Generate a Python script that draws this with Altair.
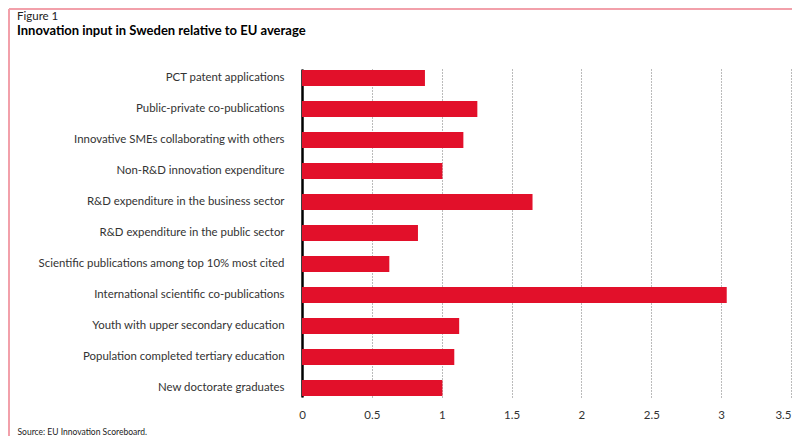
import altair as alt
import pandas as pd

categories = [
    "PCT patent applications",
    "Public-private co-publications",
    "Innovative SMEs collaborating with others",
    "Non-R&D innovation expenditure",
    "R&D expenditure in the business sector",
    "R&D expenditure in the public sector",
    "Scientific publications among top 10% most cited",
    "International scientific co-publications",
    "Youth with upper secondary education",
    "Population completed tertiary education",
    "New doctorate graduates",
]
values = [0.88, 1.255, 1.155, 1.005, 1.65, 0.83, 0.625, 3.04, 1.125, 1.09, 1.005]
tick_values = [0, 0.5, 1, 1.5, 2, 2.5, 3, 3.5]
figure_label = ["Figure 1"]
figure_title = ["Innovation input in Sweden relative to EU average"]
source_note = "Source: EU Innovation Scoreboard."

df = pd.DataFrame({"indicator": categories, "value": values})

FONT = "Lato"
PAD_L = 294
PAD_T = 61
PLOT_W = 784 - PAD_L - 1
PLOT_H = 328
PAD_B = 428 - PAD_T - PLOT_H

bars = alt.Chart(df).mark_bar(color="#e2102a").encode(
    x=alt.X(
        "value:Q",
        scale=alt.Scale(domain=[0, 3.5], nice=False),
        axis=alt.Axis(
            values=tick_values,
            labelExpr="datum.value",
            labelAlign=alt.expr("datum.value == 3.5 ? 'right' : 'center'"),
            domain=False,
            ticks=False,
            grid=True,
            gridDash=[1, 2],
            gridColor="#777777",
            gridWidth=1,
            labelFont=FONT,
            labelFontSize=11.5,
            labelColor="#333333",
            labelPadding=12,
            title=source_note,
            titleFont=FONT,
            titleFontSize=8.5,
            titleFontWeight="normal",
            titleColor="#222222",
            titleX=-285,
            titleY=37,
            titleBaseline="alphabetic",
            titleAlign="left",
            titleAnchor="start",
        ),
    ),
    y=alt.Y(
        "indicator:N",
        sort=categories,
        scale=alt.Scale(paddingInner=0.48, paddingOuter=0.03),
        axis=alt.Axis(
            title=None,
            domain=True,
            domainColor="#000000",
            domainWidth=2.5,
            ticks=False,
            grid=False,
            labelFont=FONT,
            labelFontSize=11.4,
            labelColor="#333333",
            labelPadding=18,
            labelLimit=300,
        ),
    ),
)

label_text = alt.Chart(pd.DataFrame({"t": figure_label})).mark_text(
    align="left", baseline="alphabetic", font=FONT, fontSize=11.5, color="#222222"
).encode(text="t:N", x=alt.value(-285), y=alt.value(-49))

title_text = alt.Chart(pd.DataFrame({"t": figure_title})).mark_text(
    align="left", baseline="alphabetic", font=FONT, fontSize=13, fontWeight="bold", color="#000000"
).encode(text="t:N", x=alt.value(-285), y=alt.value(-34))

border = alt.Chart(pd.DataFrame({"k": [0]})).mark_rule(color="#f2a0aa", strokeWidth=2).encode(
    x=alt.value(-PAD_L + 1), x2=alt.value(PLOT_W + 5), y=alt.value(-PAD_T + 1)
)
border2 = alt.Chart(pd.DataFrame({"k": [0]})).mark_rule(color="#f2a0aa", strokeWidth=2).encode(
    x=alt.value(-PAD_L + 1), y=alt.value(-PAD_T + 1), y2=alt.value(PLOT_H + PAD_B + 5)
)

chart = alt.layer(bars, label_text, title_text, border, border2).properties(
    width=PLOT_W,
    height=PLOT_H,
    autosize=alt.AutoSizeParams(type="none"),
    padding={"left": PAD_L, "top": PAD_T, "right": 1, "bottom": PAD_B},
).configure_view(stroke=None)

chart.save("out.html", embed_options={"renderer": "svg", "actions": False})
